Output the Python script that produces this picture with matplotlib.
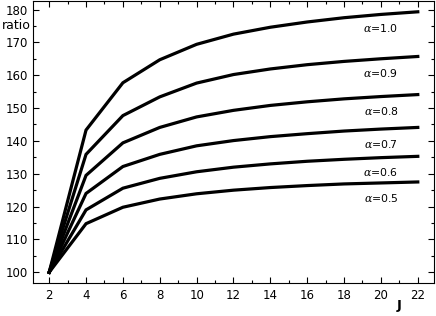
import numpy as np
import matplotlib
matplotlib.use("Agg")
import matplotlib.pyplot as plt
from matplotlib.ticker import MultipleLocator

# data
J = [2, 4, 6, 8, 10, 12, 14, 16, 18, 20, 22]
alphas = ["1.0", "0.9", "0.8", "0.7", "0.6", "0.5"]
ratio_10 = [100, 143.3, 157.7, 164.7, 169.4, 172.5, 174.6, 176.2, 177.5, 178.5, 179.3]
ratio_09 = [100, 135.9, 147.7, 153.4, 157.6, 160.2, 161.9, 163.2, 164.2, 165.0, 165.7]
ratio_08 = [100, 129.5, 139.4, 144.1, 147.3, 149.3, 150.8, 151.9, 152.8, 153.5, 154.1]
ratio_07 = [100, 124.0, 132.2, 135.9, 138.5, 140.1, 141.3, 142.2, 143.0, 143.6, 144.1]
ratio_06 = [100, 119.0, 125.6, 128.6, 130.6, 132.0, 133.0, 133.8, 134.4, 134.9, 135.3]
ratio_05 = [100, 114.8, 119.8, 122.3, 123.9, 125.0, 125.8, 126.4, 126.9, 127.2, 127.5]
series = [ratio_10, ratio_09, ratio_08, ratio_07, ratio_06, ratio_05]

font = "Liberation Sans Narrow"
plt.rcParams["mathtext.fontset"] = "dejavuserif"

fig = plt.figure(figsize=(4.36, 3.16), dpi=100)
ax = fig.add_axes([0.076, 0.104, 0.919, 0.894])

for a, vals in zip(alphas, series):
    ax.plot(J, vals, color="black", lw=2.3, solid_joinstyle="miter")
    ax.text(20.0, vals[-1] - 4.9, r"$\alpha$=" + a, fontsize=7.8,
            ha="center", va="center", family=["DejaVu Sans"])

ax.set_xlim(1.13, 22.87)
ax.set_ylim(96.7, 182.7)
ax.set_xticks(range(2, 23, 2))
ax.set_yticks(range(100, 181, 10))
ax.xaxis.set_minor_locator(MultipleLocator(1))
ax.yaxis.set_minor_locator(MultipleLocator(5))
ax.tick_params(which="both", direction="in", top=True, right=True,
               labelsize=8.5, width=0.8, pad=4)
ax.tick_params(which="major", length=4)
ax.tick_params(which="minor", length=2.5)
for lab in ax.get_xticklabels() + ax.get_yticklabels():
    lab.set_family(font)
for s in ax.spines.values():
    s.set_linewidth(0.8)

ax.text(-0.005, 175, "ratio", transform=ax.get_yaxis_transform(),
        ha="right", va="center", fontsize=9, family=font)
# "J" sits just below the 21/22 ticks
ax.text(21.0, -0.055, "J", transform=ax.get_xaxis_transform(), fontsize=9.5,
        fontweight="bold", ha="center", va="top", family="DejaVu Sans")

fig.savefig("out.png", dpi=100)
